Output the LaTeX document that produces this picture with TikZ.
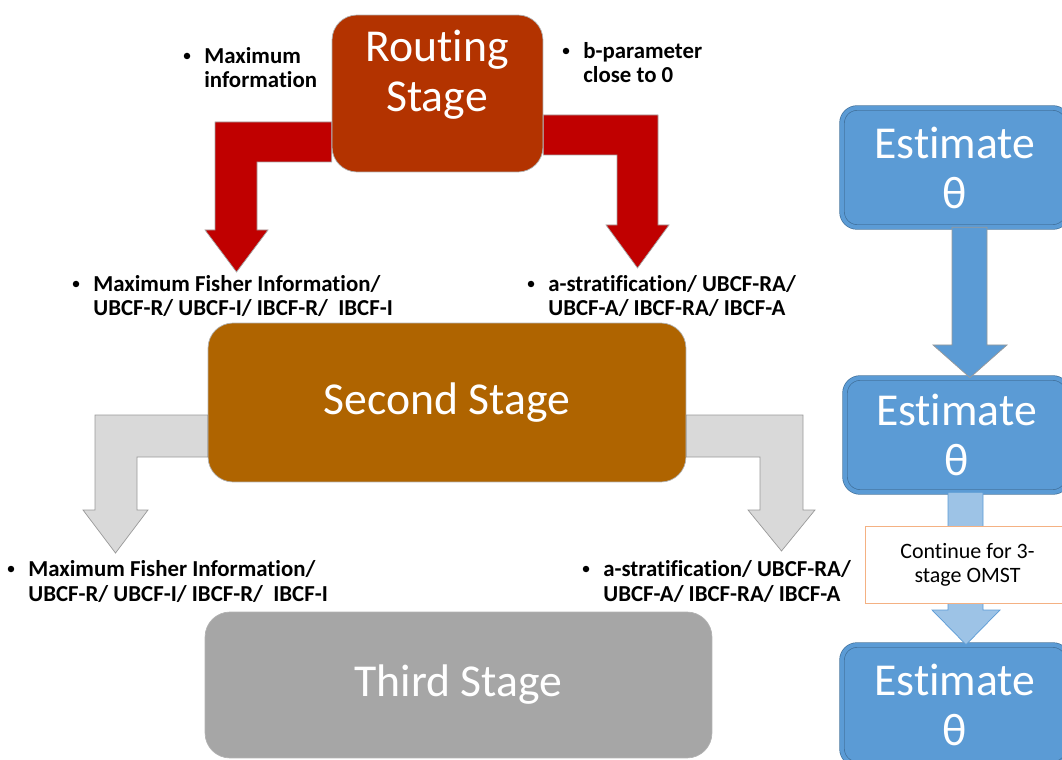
\documentclass[tikz,border=0pt]{standalone}
\usepackage{fontspec}
\setmainfont{Carlito}[Ligatures=NoCommon]
\usetikzlibrary{calc}

\definecolor{routingred}{RGB}{179,51,0}
\definecolor{arrowred}{RGB}{192,0,0}
\definecolor{secondbrown}{RGB}{175,100,0}
\definecolor{thirdgray}{RGB}{166,166,166}
\definecolor{arrowgray}{RGB}{217,217,217}
\definecolor{estblue}{RGB}{91,155,213}
\definecolor{estborder}{RGB}{65,113,156}
\definecolor{lightblue}{RGB}{157,195,230}
\definecolor{noteborder}{RGB}{244,177,131}

\tikzset{
  stagebox/.style={rounded corners=0.5cm, draw=gray!60, thin, inner sep=0pt},
  stagetext/.style={text=white, align=center, inner sep=0pt,
    font=\fontsize{26}{28.4}\selectfont},
  estbox/.style={rounded corners=0.3cm, fill=estblue, draw=estborder,
    double=estblue, double distance=0.08cm, text=white, align=center,
    inner sep=0pt, font=\fontsize{26}{28.4}\selectfont},
  note/.style={font=\bfseries\fontsize{13}{14.2}\selectfont, align=left,
    inner sep=0pt, anchor=base west},
  bul/.style={circle, fill=black, inner sep=0pt, minimum size=0.13cm},
  redarrow/.style={fill=arrowred, draw=gray!70, thin},
  grayarrow/.style={fill=arrowgray, draw=gray!80, thin},
  bluearrow/.style={fill=estblue, draw=gray!80, thin}
}

\begin{document}
\begin{tikzpicture}[x=0.02cm, y=-0.02cm]
  \path[use as bounding box, clip] (0,0) rectangle (1062,760);

  % stage boxes
  \node[stagebox, fill=routingred, minimum width=4.22cm, minimum height=3.14cm]
    (routing) at (437.5,93.5) {};
  \node[stagetext] (routinglbl) at (437,75) {Routing\\Stage};
  \node[stagebox, fill=secondbrown, minimum width=9.56cm, minimum height=3.18cm,
    stagetext] (second) at (447,402.5) {Second Stage};
  \node[stagebox, fill=thirdgray, minimum width=10.14cm, minimum height=2.92cm,
    stagetext] (third) at (458.5,685) {Third Stage};

  % estimate boxes
  \node[estbox, minimum width=4.52cm, minimum height=2.38cm] (est1) at (955,167.5) {Estimate\\θ};
  \node[estbox, minimum width=4.46cm, minimum height=2.28cm] (est2) at (956.5,435) {Estimate\\θ};
  \node[estbox, minimum width=4.52cm, minimum height=2.38cm] (est3) at (955,704.5) {Estimate\\θ};

  % routing arrows
  \draw[redarrow] (routing.west |- 0,122) -- (215,122) -- (215,230) -- (205,230)
    -- (236.5,272) -- (268,230) -- (257,230) -- (257,162) -- (routing.west |- 0,162) -- cycle;
  \draw[redarrow] (routing.east |- 0,115) -- (658,115) -- (658,225) -- (669,225)
    -- (637.5,268) -- (606,225) -- (617,225) -- (617,155) -- (routing.east |- 0,155) -- cycle;

  % second stage arrows
  \draw[grayarrow] (second.west |- 0,415) -- (95,415) -- (95,510) -- (83,510)
    -- (115.5,553) -- (148,510) -- (137,510) -- (137,457) -- (second.west |- 0,457) -- cycle;
  \draw[grayarrow] (second.east |- 0,415) -- (803,415) -- (803,510) -- (815,510)
    -- (781.5,551) -- (748,510) -- (760,510) -- (760,457) -- (second.east |- 0,457) -- cycle;

  % estimate arrows
  \draw[bluearrow] (est1.south -| 952,0) -- (est1.south -| 987,0) -- (987,345) -- (1007,345)
    -- (est2.north -| 970,0) -- (933,345) -- (952,345) -- cycle;
  \draw[fill=lightblue, draw=estblue] (est2.south -| 948,0) -- (est2.south -| 983,0)
    -- (983,610) -- (1000,610) -- (est3.north -| 966,0) -- (932,610) -- (948,610) -- cycle;
  \node[draw=noteborder, fill=white, minimum width=4.1cm, minimum height=1.54cm,
    inner sep=0pt, align=center, font=\fontsize{12.5}{13.5}\selectfont]
    (cont) at (967.5,564.5) {Continue for 3-\\stage OMST};

  % bullet texts (anchored at the baseline of the second line)
  \node[note] (maxinfo) at (204,88) {Maximum\\information};
  \node[note] (bparam) at (583,83) {b-parameter\\close to 0};
  \node[note] (mfi2) at (93,316) {Maximum Fisher Information/\\UBCF-R/ UBCF-I/ IBCF-R/ \ IBCF-I};
  \node[note] (astr2) at (548,316) {a-stratification/ UBCF-RA/\\UBCF-A/ IBCF-RA/ IBCF-A};
  \node[note] (mfi3) at (28,601) {Maximum Fisher Information/\\UBCF-R/ UBCF-I/ IBCF-R/ \ IBCF-I};
  \node[note] (astr3) at (603,601) {a-stratification/ UBCF-RA/\\UBCF-A/ IBCF-RA/ IBCF-A};
  \foreach \n in {maxinfo,bparam,mfi2,astr2,mfi3,astr3}
    \node[bul] at ($(\n.base west)+(-17,-32)$) {};
\end{tikzpicture}
\end{document}
